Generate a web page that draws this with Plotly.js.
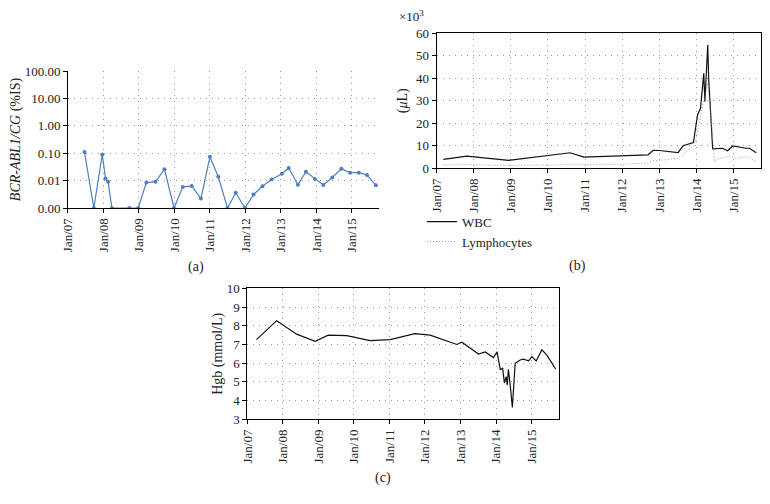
<!DOCTYPE html>
<html>
<head>
<meta charset="utf-8">
<script src="https://cdn.plot.ly/plotly-3.0.1.min.js"></script>
<style>
  body { margin: 0; background: #fff; }
  #chart { width: 770px; height: 504px; }
</style>
</head>
<body>
<div id="chart"></div>
<script>
// (a) BCR-ABL1/CG, undetectable values drawn on the 0.00 line (0.001)
var bcrDates = ['2007-06-20', '2007-09-24', '2007-12-20', '2008-01-22', '2008-02-18', '2008-03-28',
  '2008-09-24', '2008-12-24', '2009-03-18', '2009-06-20', '2009-09-20', '2009-12-28',
  '2010-03-28', '2010-06-28', '2010-10-01', '2011-01-01', '2011-03-28', '2011-07-01',
  '2011-09-24', '2011-12-28', '2012-03-25', '2012-06-25', '2012-09-27', '2013-01-12',
  '2013-03-22', '2013-06-25', '2013-09-16', '2013-12-16', '2014-03-14', '2014-06-14',
  '2014-09-16', '2014-12-14', '2015-03-14', '2015-06-06', '2015-09-06'];
var bcrValues = [0.11, 0.001, 0.09, 0.012, 0.009, 0.001,
  0.001, 0.001, 0.0085, 0.009, 0.026, 0.001,
  0.0059, 0.0064, 0.0022, 0.074, 0.0138, 0.001,
  0.0036, 0.001, 0.0031, 0.0062, 0.011, 0.0177,
  0.029, 0.0071, 0.021, 0.0115, 0.0069, 0.013,
  0.027, 0.0195, 0.0195, 0.016, 0.0067];
var bcrTickVals = [0.001, 0.01, 0.1, 1, 10, 100];
var bcrTickText = ['0.00', '0.01', '0.10', '1.00', '10.00', '100.00'];

// (b) WBC and lymphocytes, x10^3 per uL
var wbcDates = ['2007-03-10', '2007-10-27', '2008-12-10', '2010-08-07', '2010-12-20', '2012-09-12',
  '2012-11-02', '2013-01-01', '2013-07-05', '2013-08-22', '2013-12-02', '2014-01-12',
  '2014-02-10', '2014-03-14', '2014-03-25', '2014-04-08', '2014-04-22', '2014-05-02',
  '2014-06-10', '2014-09-16', '2014-11-03', '2014-12-24', '2015-02-28', '2015-05-04',
  '2015-06-06', '2015-08-12'];
var wbcValues = [4.0, 5.4, 3.5, 6.9, 5.0, 6.0,
  8.0, 7.9, 7.0, 10.0, 11.4, 23.7,
  26.7, 42.2, 29.6, 40.7, 54.8, 39.2,
  8.6, 8.9, 7.8, 9.9, 9.3, 8.9,
  8.9, 6.9];
var lymDates = ['2007-03-10', '2007-10-27', '2008-12-10', '2010-08-07', '2010-12-20', '2012-01-01',
  '2012-09-12', '2012-11-02', '2013-01-01', '2013-07-01', '2013-09-24', '2013-12-14',
  '2014-02-03', '2014-03-07', '2014-04-08', '2014-04-22', '2014-05-27', '2014-06-28',
  '2014-08-14', '2014-11-20', '2015-01-26', '2015-05-04', '2015-08-11'];
var lymValues = [1.5, 1.6, 1.3, 1.6, 1.5, 1.8,
  2.4, 3.4, 3.5, 4.4, 7.4, 10.4,
  21.5, 28.9, 35.6, 37.8, 21.5, 3.0,
  4.4, 5.5, 4.4, 5.2, 3.0];

// (c) Hgb, mmol/L
var hgbDates = ['2007-04-05', '2007-10-30', '2008-05-22', '2008-11-28', '2009-04-12', '2009-10-20',
  '2010-06-16', '2011-01-08', '2011-09-20', '2012-02-24', '2012-11-24', '2013-01-15',
  '2013-07-05', '2013-09-12', '2013-12-05', '2014-01-12', '2014-02-14', '2014-03-10',
  '2014-03-28', '2014-04-15', '2014-04-27', '2014-05-08', '2014-05-27', '2014-06-18',
  '2014-07-17', '2014-09-06', '2014-10-09', '2014-12-02', '2015-01-05', '2015-02-18',
  '2015-04-17', '2015-06-06', '2015-09-06'];
var hgbValues = [7.26, 8.27, 7.55, 7.17, 7.5, 7.47,
  7.2, 7.26, 7.58, 7.5, 7.0, 7.12,
  6.49, 6.6, 6.3, 6.6, 5.64, 5.75,
  4.93, 5.28, 4.83, 5.67, 4.83, 3.64,
  5.99, 6.17, 6.21, 6.12, 6.35, 6.12,
  6.71, 6.44, 5.69];

var janTicks = ['2007-01-01', '2008-01-01', '2009-01-01', '2010-01-01', '2011-01-01',
  '2012-01-01', '2013-01-01', '2014-01-01', '2015-01-01'];
var janLabels = ['Jan/07', 'Jan/08', 'Jan/09', 'Jan/10', 'Jan/11', 'Jan/12', 'Jan/13', 'Jan/14', 'Jan/15'];

var serif = 'Liberation Serif, Times New Roman, serif';

var traces = [
  {
    x: bcrDates, y: bcrValues, type: 'scatter', mode: 'lines+markers',
    xaxis: 'x', yaxis: 'y', showlegend: false,
    line: { color: '#4f7fbe', width: 1.2 },
    marker: { color: '#4f7fbe', size: 4 }
  },
  {
    x: wbcDates, y: wbcValues, type: 'scatter', mode: 'lines', name: 'WBC',
    xaxis: 'x2', yaxis: 'y2',
    line: { color: '#111', width: 1.2 }
  },
  {
    x: lymDates, y: lymValues, type: 'scatter', mode: 'lines', name: 'Lymphocytes',
    xaxis: 'x2', yaxis: 'y2',
    line: { color: '#999', width: 1, dash: '1px,2px' }
  },
  {
    x: hgbDates, y: hgbValues, type: 'scatter', mode: 'lines',
    xaxis: 'x3', yaxis: 'y3', showlegend: false,
    line: { color: '#111', width: 1.2 }
  }
];

function xAxis(domain, end, anchor, mirror) {
  return {
    domain: domain, anchor: anchor, type: 'date',
    range: ['2007-01-01', end],
    tickmode: 'array', tickvals: janTicks, ticktext: janLabels, tickangle: -90,
    ticks: 'outside', ticklen: 4, tickcolor: '#000',
    showline: true, linecolor: '#000', linewidth: 1, mirror: mirror,
    showgrid: true, gridcolor: '#999', griddash: '1px,5px', gridwidth: 1,
    zeroline: false, tickfont: { size: 13 }
  };
}

function yAxis(domain, anchor, extra) {
  var ax = {
    domain: domain, anchor: anchor,
    ticks: 'outside', ticklen: 4, tickcolor: '#000',
    showline: true, linecolor: '#000', linewidth: 1,
    showgrid: true, gridcolor: '#999', griddash: '1px,5px', gridwidth: 1,
    zeroline: false, tickfont: { size: 13 }
  };
  for (var k in extra) ax[k] = extra[k];
  return ax;
}

var layout = {
  width: 770, height: 504,
  margin: { l: 0, r: 0, t: 0, b: 0 },
  paper_bgcolor: '#fff', plot_bgcolor: '#fff',
  font: { family: serif, size: 13, color: '#222' },
  xaxis: xAxis([0.0883, 0.4922], '2015-10-08', 'y', false),
  yaxis: yAxis([0.5873, 0.8591], 'x', {
    type: 'log', range: [-3, 2], tickmode: 'array',
    tickvals: bcrTickVals, ticktext: bcrTickText,
    title: { text: '<i>BCR-ABL1/CG</i> (%IS)', font: { size: 14 }, standoff: 0 }
  }),
  xaxis2: xAxis([0.5669, 0.9883], '2015-09-28', 'y2', true),
  yaxis2: yAxis([0.6661, 0.9339], 'x2', {
    range: [0, 60], dtick: 10, mirror: true,
    title: { text: '(<i>μ</i>L)', font: { size: 14 }, standoff: 5 }
  }),
  xaxis3: xAxis([0.3212, 0.7264], '2015-10-14', 'y3', true),
  yaxis3: yAxis([0.168, 0.428], 'x3', {
    range: [3, 10], dtick: 1, mirror: true,
    title: { text: 'Hgb (mmol/L)', font: { size: 14 }, standoff: 0 }
  }),
  showlegend: true,
  legend: {
    x: 0.548, y: 0.59, xanchor: 'left', yanchor: 'top',
    font: { size: 13 }, bgcolor: 'rgba(0,0,0,0)', tracegroupgap: 0
  },
  annotations: [
    { text: '×10<sup>3</sup>', xref: 'paper', yref: 'paper', x: 397 / 770, y: 1 - 16 / 504,
      xanchor: 'left', yanchor: 'middle', showarrow: false, font: { size: 13 } },
    { text: '(a)', xref: 'paper', yref: 'paper', x: 196 / 770, y: 1 - 267 / 504,
      xanchor: 'center', yanchor: 'middle', showarrow: false, font: { size: 14 } },
    { text: '(b)', xref: 'paper', yref: 'paper', x: 577 / 770, y: 1 - 266 / 504,
      xanchor: 'center', yanchor: 'middle', showarrow: false, font: { size: 14 } },
    { text: '(c)', xref: 'paper', yref: 'paper', x: 383 / 770, y: 1 - 478 / 504,
      xanchor: 'center', yanchor: 'middle', showarrow: false, font: { size: 14 } }
  ]
};

Plotly.newPlot('chart', traces, layout, { displayModeBar: false, staticPlot: true });
</script>
</body>
</html>
